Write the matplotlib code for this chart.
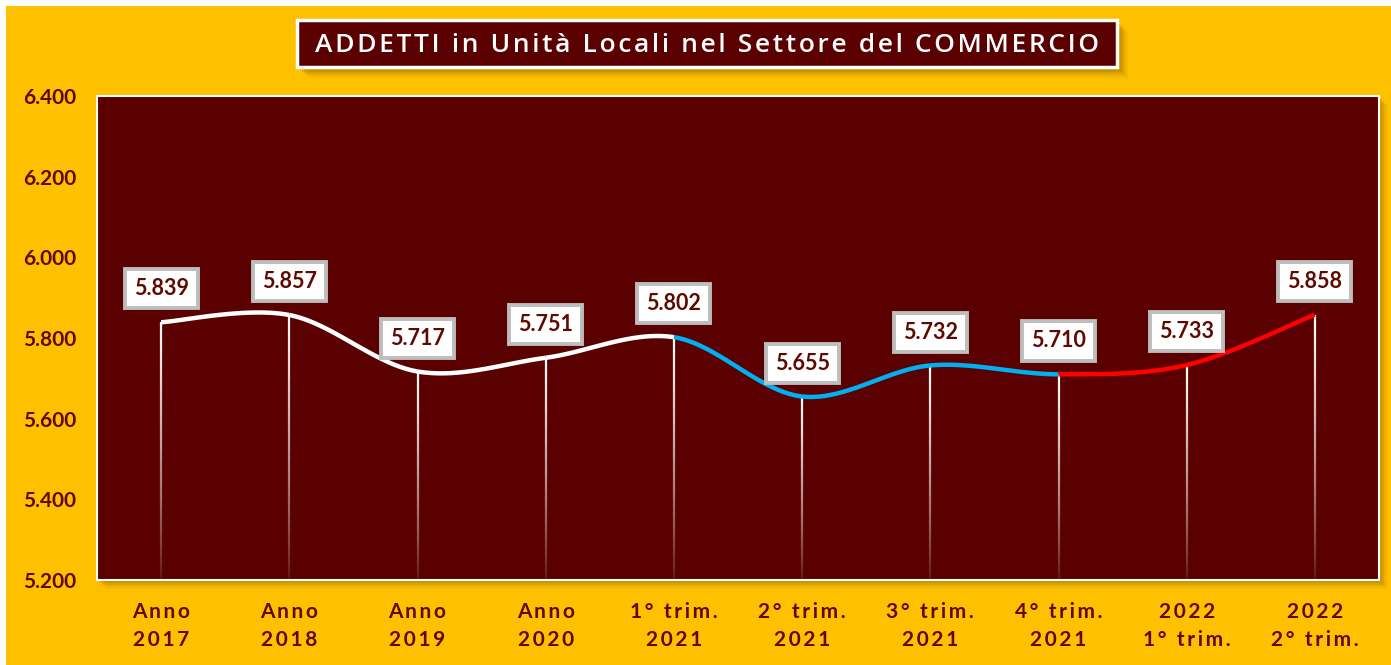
import numpy as np
import matplotlib
matplotlib.use('Agg')
import matplotlib.pyplot as plt
from matplotlib.patches import Rectangle
from matplotlib.collections import LineCollection

# data: employees (thousands) in local units, retail/trade sector
categories = ['Anno\n2017', 'Anno\n2018', 'Anno\n2019', 'Anno\n2020',
              '1° trim.\n2021', '2° trim.\n2021', '3° trim.\n2021',
              '4° trim.\n2021', '2022\n1° trim.', '2022\n2° trim.']
addetti = [5839, 5857, 5717, 5751, 5802, 5655, 5732, 5710, 5733, 5858]
y_ticks = [5200, 5400, 5600, 5800, 6000, 6200, 6400]
title = 'ADDETTI in Unità Locali nel Settore del COMMERCIO'

GOLD = '#FFC000'
MAROON = '#5A0000'
TEXT = '#5E0A00'
FONT = ['Lato', 'DejaVu Sans']

plt.rcParams['font.family'] = FONT


def fmt(v):
    return f'{v:,}'.replace(',', '.')


def spaced(s, sep='\u2009'):
    # widen letter spacing with narrow spaces
    return '\n'.join(sep.join(line) for line in s.split('\n'))


def smooth(x, y, n=40):
    '''bezier smoothing like spreadsheet "smoothed line"
    returns one array of points per segment'''
    p = np.column_stack([x, y]).astype(float)
    segs = []
    for i in range(len(p) - 1):
        p0 = p[i - 1] if i > 0 else p[i]
        p1, p2 = p[i], p[i + 1]
        p3 = p[i + 2] if i + 2 < len(p) else p[i + 1]
        c1 = p1 + (p2 - p0) / 6
        c2 = p2 - (p3 - p1) / 6
        t = np.linspace(0, 1, n)[:, None]
        b = ((1 - t) ** 3 * p1 + 3 * (1 - t) ** 2 * t * c1
             + 3 * (1 - t) * t ** 2 * c2 + t ** 3 * p2)
        segs.append(b)
    return segs


fig = plt.figure(figsize=(13.91, 6.65), dpi=100)
fig.patch.set_facecolor('white')
W, H = 1391, 665


def px(x0, y0, x1, y1):
    # pixel box (top-left origin) -> figure fraction rect
    return (x0 / W, 1 - y1 / H, (x1 - x0) / W, (y1 - y0) / H)


def add_rect(box, **kw):
    r = px(*box)
    fig.patches.append(Rectangle(r[:2], *r[2:], transform=fig.transFigure,
                                 **kw))


# gold background
add_rect((6, 6, W, H), facecolor=GOLD, edgecolor='none', zorder=0)

# soft shadows under plot area and title
for k, a in [(9, 0.06), (7, 0.08), (5, 0.12), (3, 0.15)]:
    add_rect((97 + k, 96 + k, 1379 + k, 580 + k), facecolor='#6B4A00',
             alpha=a, edgecolor='none', zorder=1)
    add_rect((299 + k, 22 + k, 1119 + k, 69 + k), facecolor='#6B4A00',
             alpha=a, edgecolor='none', zorder=1)

# title box
add_rect((297, 20, 1117, 67), facecolor=MAROON, edgecolor='white',
         linewidth=2.5, zorder=2)
fig.text(707 / W, 1 - 45 / H, spaced(title, '\u200a'), ha='center',
         va='center', color='white', fontsize=19, fontweight='semibold',
         family=['Open Sans', 'DejaVu Sans'], zorder=3)

ax = fig.add_axes(px(97, 96, 1379, 580))
ax.set_zorder(2)
ax.set_facecolor(MAROON)
for s in ax.spines.values():
    s.set_color('white')
    s.set_linewidth(1.5)

x = np.arange(len(addetti))
ax.set_xlim(-0.5, len(addetti) - 0.5)
ax.set_ylim(y_ticks[0], y_ticks[-1])

# drop lines fading towards the bottom
for xi, yi in zip(x, addetti):
    ys = np.linspace(yi, y_ticks[0], 60)
    pts = np.array([[[xi, ys[j]], [xi, ys[j + 1]]] for j in range(len(ys) - 1)])
    frac = (ys[:-1] - y_ticks[0]) / (yi - y_ticks[0])
    alpha = np.clip(0.05 + 0.95 * frac ** 0.8, 0, 1)
    cols = np.ones((len(alpha), 4))
    cols[:, 3] = alpha
    ax.add_collection(LineCollection(pts, colors=cols, linewidths=1.6,
                                     zorder=2))

# smoothed line, colored by period
segs = smooth(x, addetti)
seg_colors = ['white'] * 4 + ['#00B0F0'] * 3 + ['#FF0000'] * 2
for b, c in zip(segs, seg_colors):
    ax.plot(b[:, 0], b[:, 1], color=c, linewidth=3.2,
            solid_capstyle='butt', zorder=3)

# value labels
for xi, yi in zip(x, addetti):
    ax.annotate(fmt(yi), (xi, yi), xytext=(0, 24), textcoords='offset points',
                ha='center', va='center', fontsize=15.5, fontweight='bold',
                color=TEXT, zorder=5,
                bbox=dict(boxstyle='square,pad=0.42', facecolor='white',
                          edgecolor='#BDBDBD', linewidth=2.8))

ax.set_yticks(y_ticks)
ax.set_yticklabels([fmt(v) for v in y_ticks])
ax.set_xticks(x)
ax.set_xticklabels([spaced(c) for c in categories], linespacing=1.5)
ax.tick_params(axis='both', length=0, colors=TEXT, labelsize=15)
ax.tick_params(axis='x', pad=16)
ax.tick_params(axis='y', pad=15)
for lab in ax.get_xticklabels() + ax.get_yticklabels():
    lab.set_fontweight('bold')

fig.savefig('out.png', dpi=100, facecolor=fig.get_facecolor())
